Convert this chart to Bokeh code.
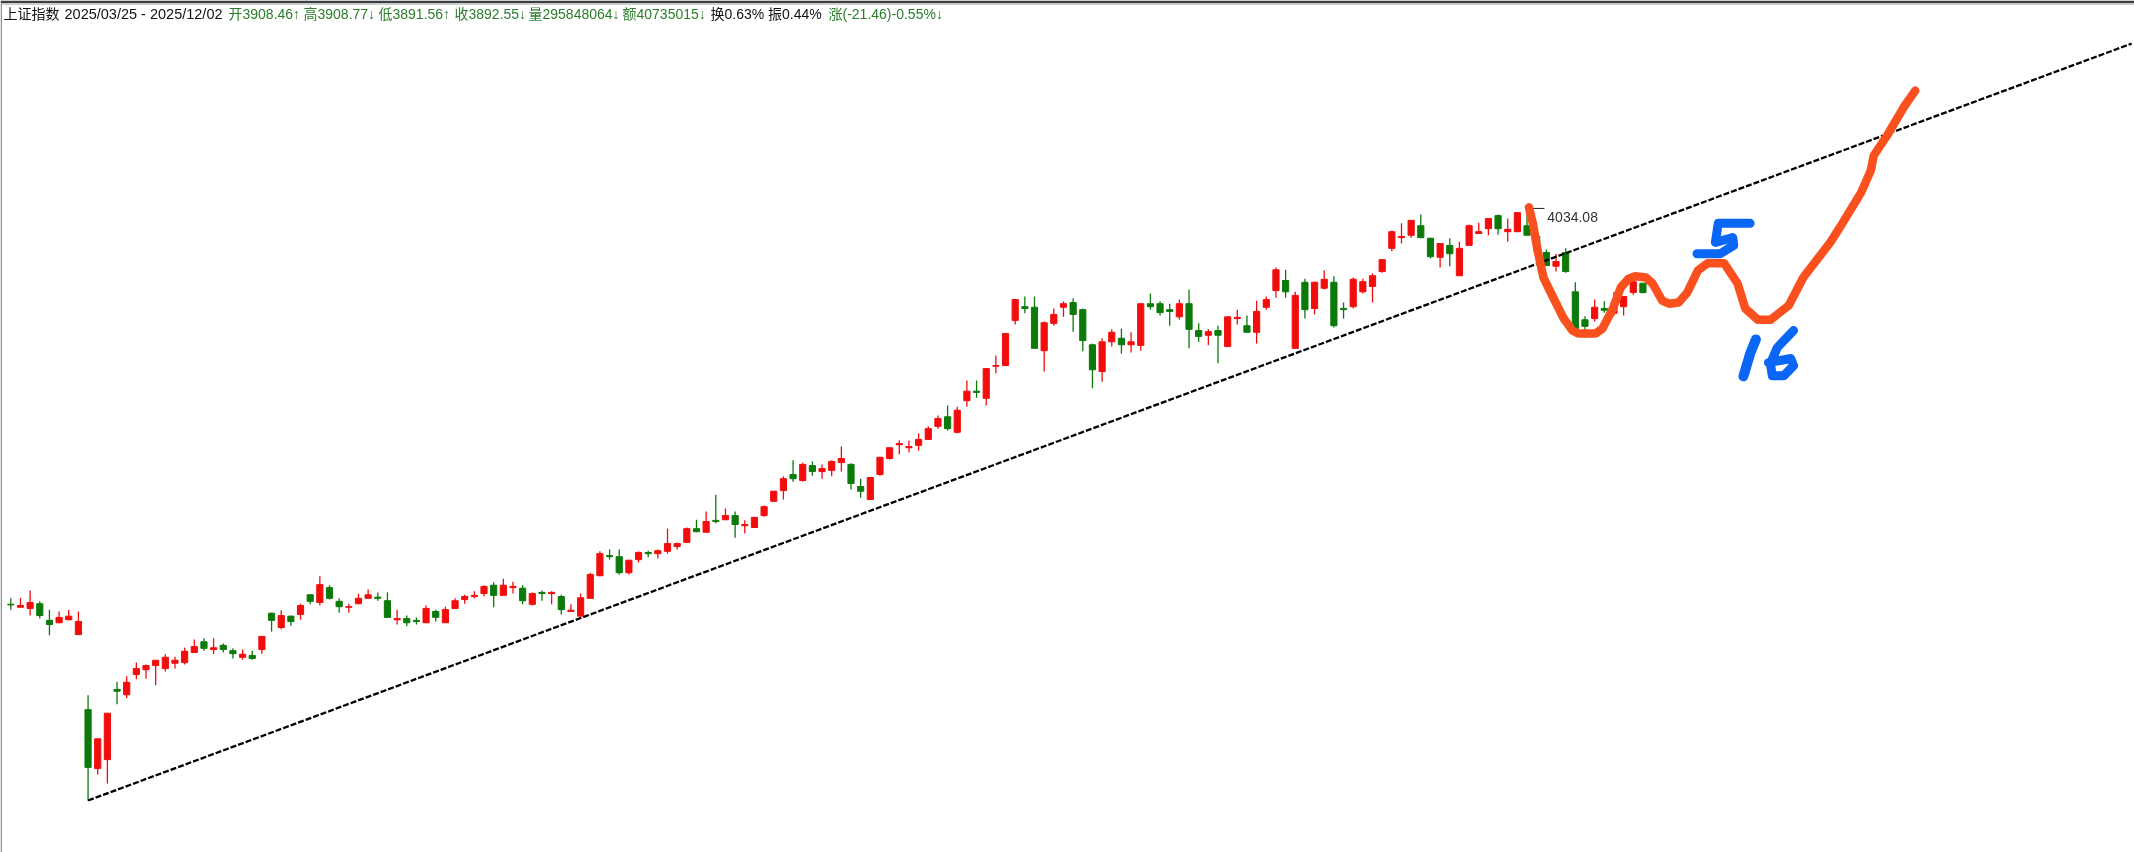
from bokeh.plotting import figure
from bokeh.models import ColumnDataSource, Label, BoxAnnotation, Range1d
from bokeh.core.properties import value
from bokeh.embed import file_html
from bokeh.resources import INLINE

opens = [3369,3364,3362,3370,3342,3338,3343,3318,3192,3093,
3108,3226,3217,3251,3259,3266,3261,3270,3271,3288,
3306,3293,3300,3291,3280,3283,3293,3354,3330,3349,
3352,3385,3372,3397,3374,3364,3370,3379,3381,3375,
3343,3345,3342,3338,3357,3338,3362,3377,3382,3387,
3401,3384,3397,3396,3369,3389,3387,3382,3357,3349,
3379,3417,3451,3449,3422,3444,3456,3454,3458,3466,
3473,3496,3490,3510,3511,3518,3501,3498,3518,3542,
3560,3587,3577,3602,3592,3594,3607,3604,3567,3545,
3587,3614,3637,3632,3636,3646,3668,3684,3658,3711,
3727,3715,3769,3770,3846,3869,3868,3795,3841,3868,
3876,3864,3805,3760,3810,3816,3805,3804,3874,3874,
3864,3852,3874,3829,3821,3829,3802,3849,3837,3826,
3868,3896,3913,3799,3910,3866,3900,3910,3866,3869,
3894,3903,3928,3967,3985,3989,4005,3984,3952,3972,
3921,3972,3992,4000,4022,3995,3995,4005,3987,3960,
3937,3960,3894,3847,3849,3866,3858,3869,3893,3908.46]

highs = [3379,3380,3392,3374,3360,3357,3360,3357,3216,3143,
3186,3239,3248,3271,3268,3275,3285,3281,3296,3310,
3312,3312,3303,3295,3293,3291,3315,3355,3359,3350,
3370,3385,3416,3401,3379,3370,3387,3394,3389,3389,
3360,3350,3347,3367,3360,3365,3379,3385,3391,3401,
3406,3412,3407,3401,3389,3392,3391,3385,3369,3387,
3422,3458,3461,3461,3444,3458,3459,3461,3496,3473,
3498,3511,3525,3553,3530,3525,3510,3516,3535,3559,
3584,3611,3607,3609,3604,3611,3634,3606,3580,3582,
3616,3632,3644,3644,3656,3668,3686,3703,3701,3745,
3745,3765,3787,3824,3881,3886,3886,3844,3866,3878,
3883,3866,3807,3816,3831,3832,3826,3874,3891,3878,
3874,3881,3898,3841,3831,3837,3852,3864,3854,3879,
3886,3935,3931,3894,3916,3911,3930,3920,3876,3918,
3916,3925,3948,3997,4009,4014,4024,3985,3975,3984,
3978,4007,4010,4017,4024,4017,4027,4034.08,3987,3965,
3958,3967,3910,3853,3881,3878,3894,3886,3911,3908.77]

lows = [3360,3364,3350,3345,3317,3337,3342,3318,3039,3083,
3068,3201,3211,3243,3244,3233,3256,3261,3268,3288,
3291,3285,3288,3278,3276,3276,3286,3323,3327,3333,
3343,3369,3367,3377,3355,3355,3369,3379,3375,3347,
3335,3332,3335,3337,3340,3338,3362,3370,3379,3382,
3364,3384,3387,3369,3367,3375,3369,3352,3357,3349,
3379,3416,3444,3419,3419,3439,3448,3446,3454,3461,
3473,3490,3490,3505,3511,3481,3488,3498,3516,3542,
3545,3575,3575,3585,3580,3584,3592,3562,3548,3545,
3585,3612,3621,3624,3627,3646,3664,3661,3656,3701,
3716,3703,3757,3770,3839,3858,3799,3760,3837,3852,
3827,3794,3732,3743,3802,3790,3792,3795,3864,3854,
3837,3847,3799,3810,3804,3774,3802,3839,3826,3807,
3864,3884,3884,3799,3849,3856,3898,3834,3849,3866,
3891,3876,3926,3962,3975,3985,3984,3950,3935,3937,
3921,3972,3992,3989,3990,3978,3994,3989,3950,3938,
3928,3926,3829,3817,3844,3859,3854,3854,3889,3891.56]

closes = [3368,3367,3372,3350,3335,3347,3349,3340,3095,3143,
3186,3223,3238,3261,3266,3275,3280,3275,3290,3298,
3295,3296,3293,3286,3285,3278,3315,3342,3350,3340,
3367,3374,3402,3379,3365,3365,3379,3385,3379,3347,
3345,3338,3340,3362,3347,3360,3375,3382,3384,3399,
3384,3401,3399,3375,3387,3387,3389,3360,3359,3380,
3419,3454,3449,3422,3443,3456,3454,3459,3471,3471,
3496,3491,3508,3508,3518,3503,3503,3515,3533,3559,
3580,3580,3604,3592,3597,3609,3614,3572,3559,3582,
3616,3632,3639,3634,3646,3664,3681,3664,3695,3727,
3725,3765,3770,3824,3881,3866,3799,3842,3856,3874,
3856,3812,3763,3810,3826,3805,3810,3874,3869,3859,
3861,3874,3831,3819,3827,3821,3852,3851,3826,3861,
3881,3931,3894,3888,3864,3910,3915,3837,3864,3915,
3911,3921,3948,3995,3987,4014,3985,3953,3975,3958,
3967,4005,3995,4017,4000,3999,4027,3989,3963,3938,
3945,3928,3832,3836,3868,3863,3874,3886,3911,3892.55]

trend_x = [8, 219.6]
trend_y = [3039.4, 4311]

orange_x = [157.2,157.6,158.1,158.7,159.6,160.8,161.7,162.3,164.1,164.8,165.9,166.7,167.5,168.2,169.3,170.0,171.0,171.7,172.7,173.6,174.7,175.7,177.4,178.4,178.8,179.6,180.9,182.2,184.1,185.6,188.4,189.5,191.6,192.6,192.9,194.3,196.0,197.2]
orange_y = [4036,4009,3963,3918,3888,3849,3829,3824,3824,3832,3866,3901,3916,3920,3918,3908,3879,3874,3876,3893,3930,3942,3942,3918,3908,3866,3847,3847,3871,3918,3977,4005,4061,4098,4123,4157,4204,4232]

five_x = [180.1,176.8,176.5,178.3,178.4,177.0,174.6]
five_y = [4009,4009,3977,3985,3972,3958,3958]
one_x = [180.7,180.1,179.4]
one_y = [3814,3790,3752]
six_x = [184.6,182.9,182.2,182.4,183.6,184.6,184.3,182.0]
six_y = [3829,3800,3773,3753,3753,3770,3782,3775]

high_label = "4034.08"
leader_x = [157, 158.8]
leader_y = [4034.08, 4034.08]
label_x = [159.1]
label_y = [4034.08]

header_parts = ["上证指数", "2025/03/25 - 2025/12/02", "开3908.46↑", "高3908.77↓", "低3891.56↑",
                "收3892.55↓", "量295848064↓", "额40735015↓", "换0.63% 振0.44%", "涨(-21.46)-0.55%↓"]
header_black = ["上证指数", "2025/03/25 - 2025/12/02", "换0.63% 振0.44%"]

RED = "#F20D0D"
GREEN = "#0B7A0B"
FONT = "'Liberation Sans', 'Noto Sans CJK SC', sans-serif"

n = len(opens)
assert n == len(highs) == len(lows) == len(closes) == 170
xs = list(range(n))
colors = [RED if c >= o else GREEN for o, c in zip(opens, closes)]
src = ColumnDataSource(dict(x=xs, o=opens, h=highs, l=lows, c=closes,
                            top=[max(a, b) for a, b in zip(opens, closes)],
                            bot=[min(a, b) for a, b in zip(opens, closes)],
                            color=colors))

p = figure(width=2134, height=852, output_backend="svg", toolbar_location=None,
           x_range=Range1d(-1.067, 219.9), y_range=Range1d(2952.0, 4383.4),
           x_axis_type=None, y_axis_type=None, min_border=0,
           background_fill_color="white", border_fill_color="white")
p.grid.visible = False
p.outline_line_color = None
p.styles = {"position": "fixed", "left": "0", "top": "0"}

p.segment("x", "h", "x", "l", source=src, line_color="color", line_width=1.3)
p.vbar("x", 0.64, "top", "bot", source=src, fill_color="color", line_color="color", line_width=1)

p.line(trend_x, trend_y, line_color="black", line_width=2.3, line_dash="6 2")
p.line(leader_x, leader_y, line_color="#222222", line_width=1)
p.text(label_x, label_y, text=[high_label], text_font=value("Liberation Sans"),
       text_font_size="14px", text_color="#333333", text_baseline="middle", y_offset=9)

for xv, yv, col, w in [(orange_x, orange_y, "#F9501E", 8.5),
                       (five_x, five_y, "#0A66F5", 9),
                       (one_x, one_y, "#0A66F5", 10),
                       (six_x, six_y, "#0A66F5", 9)]:
    p.line(xv, yv, line_color=col, line_width=w, line_join="round", line_cap="round")

header_x = [3, 64, 228, 303, 378, 454, 528, 622, 710, 828]
for txt, x0 in zip(header_parts, header_x):
    col = "#111111" if txt in header_black else "#2B7D2B"
    p.add_layout(Label(x=x0, y=852 - 13, x_units="screen", y_units="screen", text=txt,
                       text_font=FONT, text_font_size="14.5px" if txt == header_parts[1] else "14px",
                       text_color=col, text_baseline="middle"))

p.add_layout(BoxAnnotation(left=0, right=2134, top=0, bottom=2.5, left_units="canvas", right_units="canvas",
                           top_units="canvas", bottom_units="canvas", fill_color="#3A3F44", fill_alpha=1, line_color=None))
p.add_layout(BoxAnnotation(left=0, right=2134, top=3, bottom=4, left_units="canvas", right_units="canvas",
                           top_units="canvas", bottom_units="canvas", fill_color="#9A9A9A", fill_alpha=1, line_color=None))
p.add_layout(BoxAnnotation(left=0, right=1.5, top=3, bottom=852, left_units="canvas", right_units="canvas",
                           top_units="canvas", bottom_units="canvas", fill_color="#909090", fill_alpha=1, line_color=None))

open("out.html", "w").write(file_html(p, INLINE))
